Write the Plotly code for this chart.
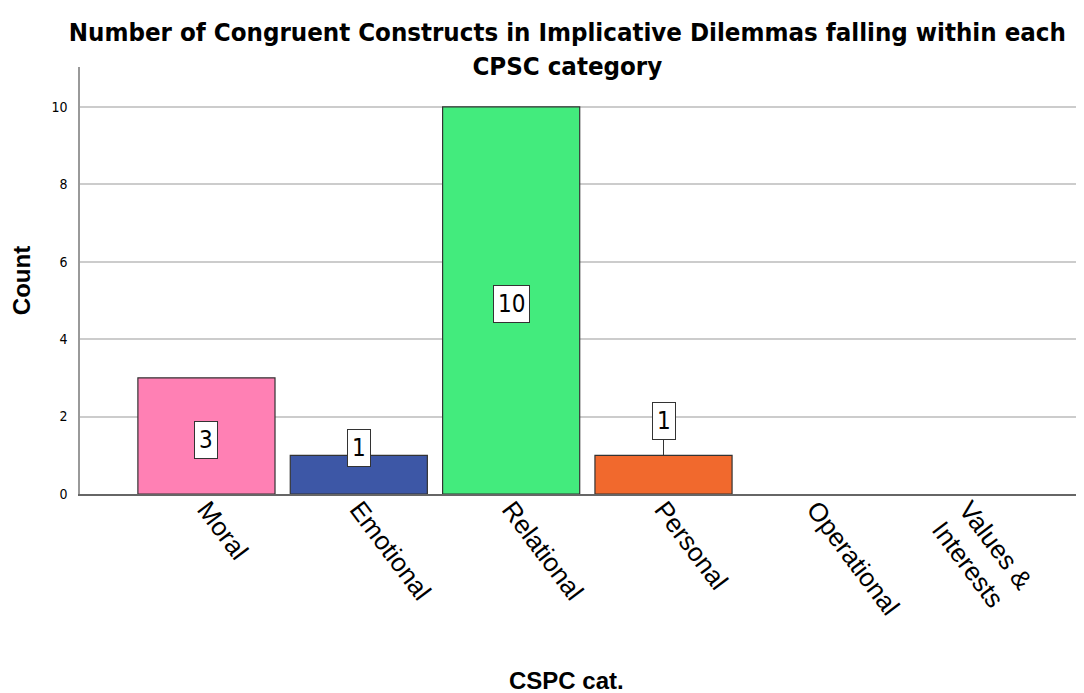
import plotly.graph_objects as go

categories = ["Moral", "Emotional", "Relational", "Personal", "Operational", "Values &<br>Interests"]
counts = [3, 1, 10, 1, 0, 0]
bar_colors = ["#FF80B4", "#3D57A6", "#43EB7D", "#F1692D", "#999999", "#999999"]
y_ticks = [0, 2, 4, 6, 8, 10]

fig = go.Figure()

fig.add_trace(
    go.Bar(
        x=categories,
        y=counts,
        marker=dict(color=bar_colors,
                    line=dict(color="#333333", width=[1.2 if v > 0 else 0 for v in counts])),
        width=0.9,
        showlegend=False,
        hoverinfo="x+y",
    )
)

# value labels: white boxes, placed like the SPSS output
label_style = dict(
    font=dict(family="DejaVu Sans Condensed, Liberation Sans, Arial", size=24, color="black"),
    bgcolor="white",
    bordercolor="#333333",
    borderwidth=1,
    borderpad=4,
)
for cat, val in zip(categories, counts):
    if val == 0:
        continue
    if val >= 3:
        # inside the bar, centred
        fig.add_annotation(x=cat, y=val / 2, text=str(val), showarrow=False, yshift=-4, **label_style)
    elif cat == "Personal":
        fig.add_annotation(x=cat, y=val, text=str(val), showarrow=True, arrowhead=0,
                           arrowwidth=1, arrowcolor="#333333", ax=0, ay=-34, **label_style)
    else:
        fig.add_annotation(x=cat, y=val, text=str(val), showarrow=False, yshift=7, **label_style)

# x axis title, centred a bit left of the plot area like the original
fig.add_annotation(
    text="CSPC cat.", xref="paper", yref="paper", x=0.485, y=-0.436,
    xanchor="center", yanchor="middle", showarrow=False,
    font=dict(family="Liberation Sans, Arial", size=24, color="black", weight="bold"),
)

# page body has an 8px margin, so margins are offset to keep the plot where the reference has it
fig.update_layout(
    width=1084,
    height=693,
    paper_bgcolor="white",
    plot_bgcolor="white",
    margin=dict(l=72, r=8, t=59, b=207, autoexpand=False),
    bargap=0.1,
    title=dict(
        text="Number of Congruent Constructs in Implicative Dilemmas falling within each<br>CPSC category",
        x=0.516,
        xanchor="center",
        y=0.952,
        yanchor="top",
        font=dict(family="DejaVu Sans Condensed, Liberation Sans, Arial", size=25.6, color="black", weight="bold"),
    ),
)

fig.update_xaxes(
    type="category",
    range=[-0.83, 5.76],
    tickangle=53,
    tickfont=dict(family="Liberation Sans, Arial", size=26, color="black"),
    showline=True,
    linecolor="#666666",
    linewidth=1.5,
    showgrid=False,
    ticks="",
    ticklabelstandoff=-12,
    automargin=False,
)

fig.update_yaxes(
    range=[0, 11.03],
    tickvals=y_ticks,
    tickfont=dict(family="DejaVu Sans Condensed, Arial", size=14, color="black"),
    showline=True,
    linecolor="#999999",
    linewidth=1.5,
    showgrid=True,
    gridcolor="#CCCCCC",
    gridwidth=1.5,
    zeroline=False,
    ticks="",
    ticklabelstandoff=8,
    automargin=False,
    title=dict(text="Count", standoff=30,
               font=dict(family="Liberation Sans, Arial", size=24, color="black", weight="bold")),
)

fig.write_html("out.html")
